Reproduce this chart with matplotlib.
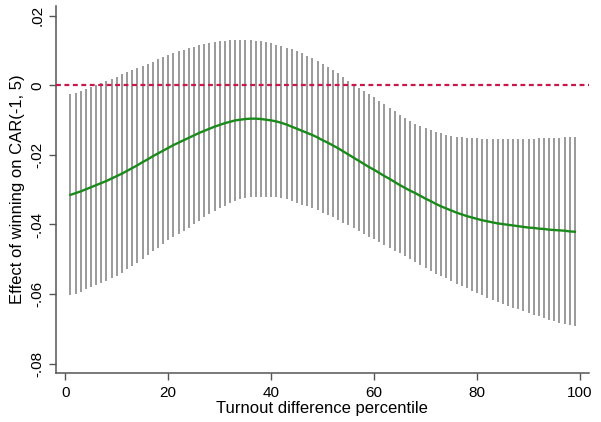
import matplotlib
matplotlib.use("Agg")
import matplotlib.pyplot as plt
from matplotlib.ticker import FuncFormatter
import numpy as np

# -------------------------
# Data: marginal effect by turnout-difference percentile
# -------------------------
pctile = list(range(1, 100))

effect = [
    -0.0315, -0.0310, -0.0305, -0.0299, -0.0293, -0.0287, -0.0281, -0.0275, -0.0268, -0.0261,
    -0.0254, -0.0246, -0.0238, -0.0230, -0.0221, -0.0213, -0.0204, -0.0196, -0.0188, -0.0180,
    -0.0172, -0.0165, -0.0158, -0.0151, -0.0144, -0.0137, -0.0131, -0.0125, -0.0119, -0.0114,
    -0.0109, -0.0105, -0.0101, -0.0099, -0.0097, -0.0096, -0.0096, -0.0097, -0.0099, -0.0101,
    -0.0104, -0.0108, -0.0113, -0.0119, -0.0125, -0.0131, -0.0137, -0.0143, -0.0150, -0.0158,
    -0.0165, -0.0173, -0.0181, -0.0190, -0.0199, -0.0208, -0.0217, -0.0226, -0.0235, -0.0243,
    -0.0252, -0.0261, -0.0269, -0.0278, -0.0287, -0.0295, -0.0303, -0.0310, -0.0318, -0.0326,
    -0.0333, -0.0341, -0.0348, -0.0354, -0.0360, -0.0366, -0.0371, -0.0376, -0.0380, -0.0384,
    -0.0388, -0.0391, -0.0394, -0.0397, -0.0399, -0.0401, -0.0403, -0.0405, -0.0407, -0.0409,
    -0.0410, -0.0412, -0.0413, -0.0415, -0.0416, -0.0417, -0.0418, -0.0420, -0.0421,
]

ci_high = [
    -0.0026, -0.0021, -0.0016, -0.0012, -0.0006, 0.0001, 0.0006, 0.0012, 0.0018, 0.0025,
    0.0031, 0.0037, 0.0044, 0.0050, 0.0056, 0.0062, 0.0068, 0.0075, 0.0080, 0.0086,
    0.0092, 0.0097, 0.0102, 0.0107, 0.0111, 0.0115, 0.0118, 0.0121, 0.0124, 0.0126,
    0.0128, 0.0129, 0.0130, 0.0130, 0.0130, 0.0129, 0.0128, 0.0126, 0.0123, 0.0120,
    0.0117, 0.0113, 0.0108, 0.0103, 0.0098, 0.0092, 0.0085, 0.0078, 0.0070, 0.0062,
    0.0053, 0.0044, 0.0034, 0.0024, 0.0013, 0.0003, -0.0007, -0.0017, -0.0026, -0.0035,
    -0.0044, -0.0054, -0.0064, -0.0074, -0.0085, -0.0095, -0.0102, -0.0110, -0.0117, -0.0123,
    -0.0128, -0.0133, -0.0138, -0.0142, -0.0145, -0.0148, -0.0150, -0.0151, -0.0152, -0.0153,
    -0.0154, -0.0154, -0.0155, -0.0155, -0.0155, -0.0155, -0.0155, -0.0155, -0.0154, -0.0154,
    -0.0154, -0.0153, -0.0153, -0.0152, -0.0151, -0.0151, -0.0150, -0.0149, -0.0148,
]

ci_low = [
    -0.0604, -0.0599, -0.0594, -0.0586, -0.0580, -0.0575, -0.0568, -0.0562, -0.0554, -0.0547,
    -0.0539, -0.0529, -0.0520, -0.0510, -0.0498, -0.0488, -0.0476, -0.0467, -0.0456, -0.0446,
    -0.0436, -0.0427, -0.0418, -0.0409, -0.0399, -0.0389, -0.0380, -0.0371, -0.0362, -0.0354,
    -0.0346, -0.0339, -0.0332, -0.0328, -0.0324, -0.0321, -0.0320, -0.0320, -0.0320, -0.0320,
    -0.0321, -0.0324, -0.0328, -0.0333, -0.0338, -0.0343, -0.0348, -0.0353, -0.0359, -0.0366,
    -0.0373, -0.0380, -0.0387, -0.0395, -0.0403, -0.0411, -0.0419, -0.0427, -0.0435, -0.0443,
    -0.0451, -0.0459, -0.0467, -0.0475, -0.0483, -0.0491, -0.0499, -0.0508, -0.0516, -0.0525,
    -0.0533, -0.0541, -0.0548, -0.0555, -0.0563, -0.0570, -0.0577, -0.0584, -0.0590, -0.0597,
    -0.0604, -0.0610, -0.0617, -0.0622, -0.0628, -0.0633, -0.0639, -0.0644, -0.0650, -0.0655,
    -0.0659, -0.0664, -0.0669, -0.0674, -0.0678, -0.0682, -0.0685, -0.0688, -0.0691,
]

x_ticks = [0, 20, 40, 60, 80, 100]
y_ticks = [-0.08, -0.06, -0.04, -0.02, 0, 0.02]

# -------------------------
# Figure setup
# -------------------------
plt.rcParams['font.family'] = ['Liberation Sans', 'DejaVu Sans']

fig = plt.figure(figsize=(6.01, 4.22), dpi=100)
ax = fig.add_axes([0.0927, 0.116, 0.887, 0.870])

# confidence intervals as vertical spikes
ax.vlines(pctile, ci_low, ci_high, color='#9a9a9a', linewidth=1.4, zorder=2)

# reference line at zero
ax.axhline(0, color='#c8174a', linestyle=(0, (2.2, 1.6)), linewidth=1.6, zorder=3)

# point estimate
ax.plot(pctile, effect, color='#1a8a1a', linewidth=1.7, zorder=4)

ax.set_xlim(-1.86, 101.7)
ax.set_ylim(-0.0827, 0.0228)
ax.set_xticks(x_ticks)
ax.set_yticks(y_ticks)


def stata_fmt(v, pos):
    if abs(v) < 1e-12:
        return '0'
    s = f"{v:.2f}".rstrip('0')
    return s.replace('0.', '.')


ax.yaxis.set_major_formatter(FuncFormatter(stata_fmt))
for lbl in ax.get_yticklabels():
    lbl.set_rotation(90)
    lbl.set_va('center')

ax.tick_params(axis='both', direction='out', length=5, width=1, color='#555555',
               labelsize=11, pad=4)
ax.tick_params(axis='y', pad=3)

ax.spines['top'].set_visible(False)
ax.spines['right'].set_visible(False)
for side in ('left', 'bottom'):
    ax.spines[side].set_color('#555555')
    ax.spines[side].set_linewidth(1.1)

ax.set_xlabel('Turnout difference percentile', fontsize=12, labelpad=1)
ax.set_ylabel('Effect of winning on CAR(-1, 5)', fontsize=12, labelpad=4)

plt.savefig('out.png', dpi=100)
